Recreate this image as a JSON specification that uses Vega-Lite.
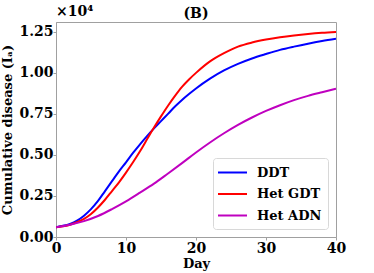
{
  "$schema": "https://vega.github.io/schema/vega-lite/v6.json",
  "autosize": {"type": "none"},
  "width": 280,
  "height": 215,
  "padding": {"left": 56, "top": 22, "right": 38, "bottom": 36},
  "background": "white",
  "config": {
    "view": {"stroke": "#a0a0a0", "strokeWidth": 1},
    "axis": {"grid": false, "domainColor": "#a0a0a0", "tickColor": "#a0a0a0", "labelFont": "DejaVu Serif", "labelFontWeight": "bold", "labelFontSize": 14, "labelColor": "black", "titleFont": "DejaVu Serif", "titleFontWeight": "bold", "titleFontSize": 13, "titleColor": "black", "labelFlush": false, "labelOverlap": false},
    "legend": {"labelFont": "DejaVu Serif", "labelFontWeight": "bold", "labelFontSize": 13, "labelColor": "black"}
  },
  "datasets": {
    "curves": [
      {"day": 0, "value": 0.06, "model": "DDT"},
      {"day": 1, "value": 0.068, "model": "DDT"},
      {"day": 2, "value": 0.08, "model": "DDT"},
      {"day": 3, "value": 0.10, "model": "DDT"},
      {"day": 4, "value": 0.13, "model": "DDT"},
      {"day": 5, "value": 0.17, "model": "DDT"},
      {"day": 6, "value": 0.22, "model": "DDT"},
      {"day": 7, "value": 0.28, "model": "DDT"},
      {"day": 8, "value": 0.34, "model": "DDT"},
      {"day": 9, "value": 0.40, "model": "DDT"},
      {"day": 10, "value": 0.455, "model": "DDT"},
      {"day": 11, "value": 0.512, "model": "DDT"},
      {"day": 12, "value": 0.565, "model": "DDT"},
      {"day": 13, "value": 0.615, "model": "DDT"},
      {"day": 14, "value": 0.662, "model": "DDT"},
      {"day": 15, "value": 0.706, "model": "DDT"},
      {"day": 16, "value": 0.75, "model": "DDT"},
      {"day": 17, "value": 0.795, "model": "DDT"},
      {"day": 18, "value": 0.835, "model": "DDT"},
      {"day": 19, "value": 0.871, "model": "DDT"},
      {"day": 20, "value": 0.905, "model": "DDT"},
      {"day": 22, "value": 0.965, "model": "DDT"},
      {"day": 24, "value": 1.015, "model": "DDT"},
      {"day": 26, "value": 1.055, "model": "DDT"},
      {"day": 28, "value": 1.088, "model": "DDT"},
      {"day": 30, "value": 1.115, "model": "DDT"},
      {"day": 32, "value": 1.14, "model": "DDT"},
      {"day": 34, "value": 1.16, "model": "DDT"},
      {"day": 36, "value": 1.178, "model": "DDT"},
      {"day": 38, "value": 1.194, "model": "DDT"},
      {"day": 40, "value": 1.208, "model": "DDT"},
      {"day": 0, "value": 0.06, "model": "Het GDT"},
      {"day": 1, "value": 0.065, "model": "Het GDT"},
      {"day": 2, "value": 0.075, "model": "Het GDT"},
      {"day": 3, "value": 0.09, "model": "Het GDT"},
      {"day": 4, "value": 0.11, "model": "Het GDT"},
      {"day": 5, "value": 0.14, "model": "Het GDT"},
      {"day": 6, "value": 0.18, "model": "Het GDT"},
      {"day": 7, "value": 0.227, "model": "Het GDT"},
      {"day": 8, "value": 0.28, "model": "Het GDT"},
      {"day": 9, "value": 0.333, "model": "Het GDT"},
      {"day": 10, "value": 0.392, "model": "Het GDT"},
      {"day": 11, "value": 0.455, "model": "Het GDT"},
      {"day": 12, "value": 0.522, "model": "Het GDT"},
      {"day": 13, "value": 0.595, "model": "Het GDT"},
      {"day": 14, "value": 0.667, "model": "Het GDT"},
      {"day": 15, "value": 0.735, "model": "Het GDT"},
      {"day": 16, "value": 0.80, "model": "Het GDT"},
      {"day": 17, "value": 0.86, "model": "Het GDT"},
      {"day": 18, "value": 0.915, "model": "Het GDT"},
      {"day": 19, "value": 0.96, "model": "Het GDT"},
      {"day": 20, "value": 1.00, "model": "Het GDT"},
      {"day": 22, "value": 1.07, "model": "Het GDT"},
      {"day": 24, "value": 1.12, "model": "Het GDT"},
      {"day": 26, "value": 1.16, "model": "Het GDT"},
      {"day": 28, "value": 1.185, "model": "Het GDT"},
      {"day": 30, "value": 1.203, "model": "Het GDT"},
      {"day": 32, "value": 1.217, "model": "Het GDT"},
      {"day": 34, "value": 1.228, "model": "Het GDT"},
      {"day": 36, "value": 1.237, "model": "Het GDT"},
      {"day": 38, "value": 1.244, "model": "Het GDT"},
      {"day": 40, "value": 1.249, "model": "Het GDT"},
      {"day": 0, "value": 0.06, "model": "Het ADN"},
      {"day": 2, "value": 0.075, "model": "Het ADN"},
      {"day": 4, "value": 0.097, "model": "Het ADN"},
      {"day": 6, "value": 0.128, "model": "Het ADN"},
      {"day": 8, "value": 0.17, "model": "Het ADN"},
      {"day": 10, "value": 0.217, "model": "Het ADN"},
      {"day": 12, "value": 0.27, "model": "Het ADN"},
      {"day": 14, "value": 0.325, "model": "Het ADN"},
      {"day": 16, "value": 0.387, "model": "Het ADN"},
      {"day": 18, "value": 0.45, "model": "Het ADN"},
      {"day": 20, "value": 0.515, "model": "Het ADN"},
      {"day": 22, "value": 0.576, "model": "Het ADN"},
      {"day": 24, "value": 0.632, "model": "Het ADN"},
      {"day": 26, "value": 0.683, "model": "Het ADN"},
      {"day": 28, "value": 0.728, "model": "Het ADN"},
      {"day": 30, "value": 0.768, "model": "Het ADN"},
      {"day": 32, "value": 0.803, "model": "Het ADN"},
      {"day": 34, "value": 0.834, "model": "Het ADN"},
      {"day": 36, "value": 0.86, "model": "Het ADN"},
      {"day": 38, "value": 0.882, "model": "Het ADN"},
      {"day": 40, "value": 0.903, "model": "Het ADN"}
    ],
    "notes": [{"label": "×10⁴"}],
    "panel": [{"label": "(B)"}]
  },
  "layer": [
    {
      "data": {"name": "curves"},
      "mark": {"type": "line", "strokeWidth": 2, "interpolate": "monotone", "clip": true},
      "encoding": {
        "x": {"field": "day", "type": "quantitative", "scale": {"domain": [0, 40], "nice": false, "zero": false},
              "axis": {"title": "Day", "values": [0, 10, 20, 30, 40], "tickSize": 3, "labelPadding": 1, "titlePadding": 2}},
        "y": {"field": "value", "type": "quantitative", "scale": {"domain": [0, 1.31], "nice": false},
              "axis": {"title": "Cumulative disease (Iₐ)", "values": [0, 0.25, 0.5, 0.75, 1.0, 1.25], "format": ".2f", "tickSize": 3, "labelPadding": 0, "titlePadding": 4}},
        "color": {"field": "model", "type": "nominal",
                  "scale": {"domain": ["DDT", "Het GDT", "Het ADN"], "range": ["#0000ff", "#ff0000", "#bf00bf"]},
                  "legend": {"title": null, "orient": "bottom-right", "offset": 8, "symbolType": "M-1.933,0H1.933", "symbolSize": 225, "symbolStrokeWidth": 2, "symbolOffset": 5, "labelOffset": 16, "padding": 6, "rowPadding": 5.5, "fillColor": "white", "strokeColor": "#d8d8d8", "cornerRadius": 3}},
        "sort": {"field": "day"}
      }
    },
    {
      "data": {"name": "notes"},
      "mark": {"type": "text", "align": "left", "baseline": "bottom", "dy": -3, "font": "DejaVu Serif", "fontWeight": "bold", "fontSize": 14, "color": "black"},
      "encoding": {
        "x": {"datum": 0, "type": "quantitative"},
        "y": {"datum": 1.31, "type": "quantitative"},
        "text": {"field": "label"}
      }
    },
    {
      "data": {"name": "panel"},
      "mark": {"type": "text", "align": "center", "baseline": "alphabetic", "dy": -4, "font": "DejaVu Serif", "fontWeight": "bold", "fontSize": 14, "color": "black"},
      "encoding": {
        "x": {"datum": 20, "type": "quantitative"},
        "y": {"datum": 1.31, "type": "quantitative"},
        "text": {"field": "label"}
      }
    }
  ]
}
